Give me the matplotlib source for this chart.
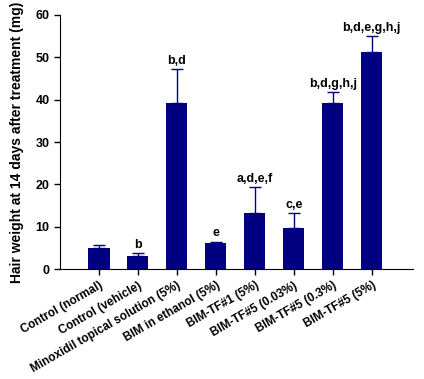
import matplotlib
matplotlib.use("Agg")
import matplotlib.pyplot as plt

groups = ["Control (normal)", "Control (vehicle)", "Minoxidil topical solution (5%)",
          "BIM in ethanol (5%)", "BIM-TF#1 (5%)", "BIM-TF#5 (0.03%)",
          "BIM-TF#5 (0.3%)", "BIM-TF#5 (5%)"]
means = [4.9, 3.1, 39.1, 6.1, 13.2, 9.8, 39.1, 51.3]
sd_upper = [0.7, 0.6, 8.2, 0.4, 6.1, 3.4, 2.6, 3.7]
letters = ["", "b", "b,d", "e", "a,d,e,f", "c,e", "b,d,g,h,j", "b,d,e,g,h,j"]

plt.rcParams['font.family'] = ['Liberation Sans', 'DejaVu Sans']
plt.rcParams['font.weight'] = 'bold'

fig = plt.figure(figsize=(4.24, 3.79), dpi=100)
ax = fig.add_axes([0.1415, 0.29, 0.832, 0.6705])

x = list(range(len(groups)))
ax.bar(x, means, width=0.54, color='#000080', zorder=2)
ax.errorbar(x, means, yerr=[[0] * len(means), sd_upper], fmt='none',
            ecolor='#000080', elinewidth=1, capsize=4, capthick=1, zorder=3)

for xi, m, s, lab in zip(x, means, sd_upper, letters):
    if lab:
        ax.text(xi, m + s + 0.5, lab, ha='center', va='bottom',
                fontsize=9, fontweight='bold')

ax.set_xlim(-1, 8.05)
ax.set_ylim(0, 60)
ax.set_yticks([0, 10, 20, 30, 40, 50, 60])
ax.set_xticks(x)
ax.set_xticklabels(groups, rotation=30, ha='right', rotation_mode='anchor',
                   fontsize=8.5, fontweight='bold')
ax.tick_params(axis='y', labelsize=9, length=4, width=1)
ax.tick_params(axis='x', length=4, width=1)
for lbl in ax.get_yticklabels():
    lbl.set_fontweight('bold')
ax.spines['top'].set_visible(False)
ax.spines['right'].set_visible(False)
ax.set_ylabel("Hair weight at 14 days after treatment (mg)", fontsize=10,
              fontweight='bold', labelpad=8)

fig.savefig("out.png", dpi=100)
